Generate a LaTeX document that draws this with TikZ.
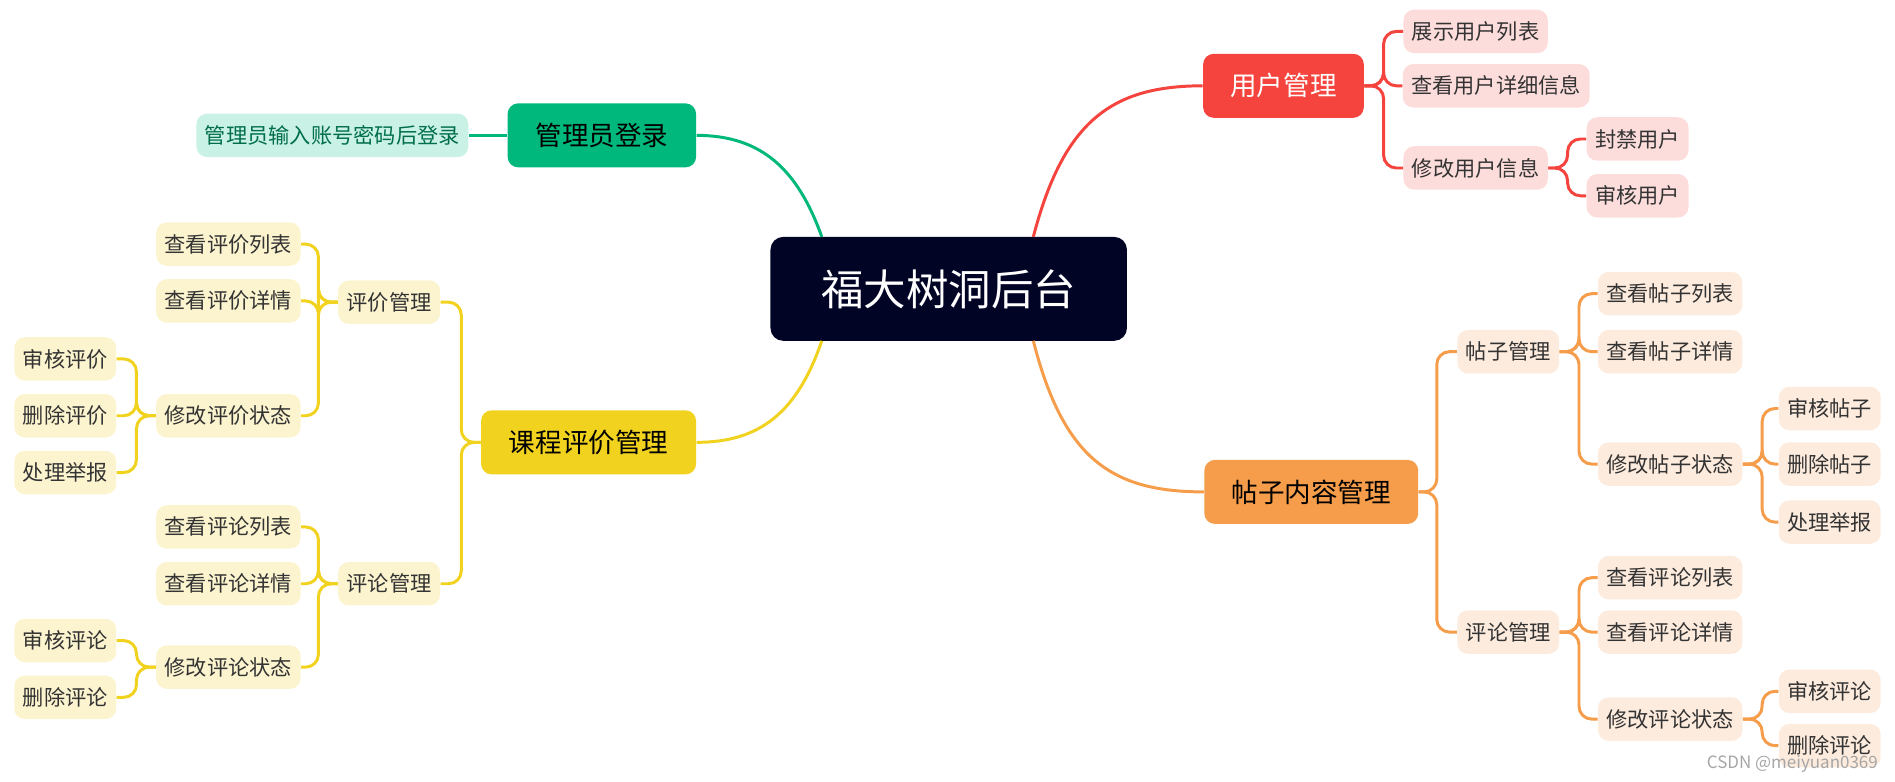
\documentclass[tikz,border=0pt]{standalone}
\usepackage{fontspec}
\setmainfont{Noto Sans CJK SC}
\usetikzlibrary{calc}
\definecolor{navy}{HTML}{020426}
\definecolor{ured}{HTML}{F5443D}\definecolor{upink}{HTML}{FDDDDC}
\definecolor{orng}{HTML}{F59D4B}\definecolor{lorng}{HTML}{FDEBDD}
\definecolor{grn}{HTML}{00B87B}\definecolor{lgrn}{HTML}{C9F1E5}
\definecolor{yel}{HTML}{F1D21F}\definecolor{lyel}{HTML}{FCF4CF}
\tikzset{
 leaf/.style={rounded corners=5pt,inner xsep=4pt,minimum height=0.72cm,font=\fontsize{10}{12}\selectfont,text=black!80},
 mid/.style={rounded corners=5pt,minimum height=1.06cm,font=\fontsize{12.5}{14}\selectfont},
 ln/.style={line width=1.4pt,rounded corners=6pt},
}
\begin{document}
\begin{tikzpicture}[x=0.02cm,y=-0.02cm]
\useasboundingbox (0,0) rectangle (1568,647);
\node[fill=navy,text=white,rounded corners=6pt,minimum width=5.9cm,minimum height=1.72cm,font=\fontsize{20}{24}\selectfont] (c) at (785,239) {福大树洞后台};
% user
\node[mid,fill=ured,text=white,minimum width=2.66cm] (u) at (1062,71) {用户管理};
\node[leaf,fill=upink] (u1) at (1221,26) {展示用户列表};
\node[leaf,fill=upink] (u2) at (1238,71) {查看用户详细信息};
\node[leaf,fill=upink] (u3) at (1221,139) {修改用户信息};
\node[leaf,fill=upink] (u31) at (1355,115) {封禁用户};
\node[leaf,fill=upink] (u32) at (1355,162) {审核用户};
\foreach \t in {u1,u2,u3} \draw[ln,ured] (u.east) -- ++(16,0) |- (\t.west);
\foreach \t in {u31,u32} \draw[ln,ured] (u3.east) -- ++(16,0) |- (\t.west);
\draw[ln,ured] (855,196) .. controls (880,100) and (920,71) .. (u.west);
% posts
\node[mid,fill=orng,text=black,minimum width=3.54cm] (p) at (1085,407) {帖子内容管理};
\node[leaf,fill=lorng] (pa) at (1248,291) {帖子管理};
\node[leaf,fill=lorng] (pb) at (1248,523) {评论管理};
\node[leaf,fill=lorng] (pa1) at (1382,243) {查看帖子列表};
\node[leaf,fill=lorng] (pa2) at (1382,291) {查看帖子详情};
\node[leaf,fill=lorng] (pa3) at (1382,384) {修改帖子状态};
\node[leaf,fill=lorng] (pa31) at (1514,338) {审核帖子};
\node[leaf,fill=lorng] (pa32) at (1514,384) {删除帖子};
\node[leaf,fill=lorng] (pa33) at (1514,432) {处理举报};
\node[leaf,fill=lorng] (pb1) at (1382,478) {查看评论列表};
\node[leaf,fill=lorng] (pb2) at (1382,523) {查看评论详情};
\node[leaf,fill=lorng] (pb3) at (1382,595) {修改评论状态};
\node[leaf,fill=lorng] (pb31) at (1514,572) {审核评论};
\node[leaf,fill=lorng] (pb32) at (1514,617) {删除评论};
\foreach \t in {pa,pb} \draw[ln,orng] (p.east) -- ++(15,0) |- (\t.west);
\foreach \t in {pa1,pa2,pa3} \draw[ln,orng] (pa.east) -- ++(16,0) |- (\t.west);
\foreach \t in {pa31,pa32,pa33} \draw[ln,orng] (pa3.east) -- ++(16,0) |- (\t.west);
\foreach \t in {pb1,pb2,pb3} \draw[ln,orng] (pb.east) -- ++(16,0) |- (\t.west);
\foreach \t in {pb31,pb32} \draw[ln,orng] (pb3.east) -- ++(16,0) |- (\t.west);
\draw[ln,orng] (855,282) .. controls (880,380) and (920,407) .. (p.west);
% admin
\node[mid,fill=grn,text=black,minimum width=3.12cm] (a) at (498,112) {管理员登录};
\node[leaf,fill=lgrn,text=grn!60!black] (a1) at (275,112) {管理员输入账号密码后登录};
\draw[ln,grn] (a.west) -- (a1.east);
\draw[ln,grn] (680,196) .. controls (660,140) and (630,112) .. (a.east);
% course
\node[mid,fill=yel,text=black,minimum width=3.56cm] (k) at (487,366) {课程评价管理};
\node[leaf,fill=lyel] (ka) at (322,250) {评价管理};
\node[leaf,fill=lyel] (kb) at (322,483) {评论管理};
\node[leaf,fill=lyel] (ka1) at (189,202) {查看评价列表};
\node[leaf,fill=lyel] (ka2) at (189,249) {查看评价详情};
\node[leaf,fill=lyel] (ka3) at (189,344) {修改评价状态};
\node[leaf,fill=lyel] (ka31) at (54,297) {审核评价};
\node[leaf,fill=lyel] (ka32) at (54,344) {删除评价};
\node[leaf,fill=lyel] (ka33) at (54,391) {处理举报};
\node[leaf,fill=lyel] (kb1) at (189,436) {查看评论列表};
\node[leaf,fill=lyel] (kb2) at (189,483) {查看评论详情};
\node[leaf,fill=lyel] (kb3) at (189,552) {修改评论状态};
\node[leaf,fill=lyel] (kb31) at (54,530) {审核评论};
\node[leaf,fill=lyel] (kb32) at (54,577) {删除评论};
\foreach \t in {ka,kb} \draw[ln,yel] (k.west) -- ++(-16,0) |- (\t.east);
\foreach \t in {ka1,ka2,ka3} \draw[ln,yel] (ka.west) -- ++(-16,0) |- (\t.east);
\foreach \t in {ka31,ka32,ka33} \draw[ln,yel] (ka3.west) -- ++(-16,0) |- (\t.east);
\foreach \t in {kb1,kb2,kb3} \draw[ln,yel] (kb.west) -- ++(-16,0) |- (\t.east);
\foreach \t in {kb31,kb32} \draw[ln,yel] (kb3.west) -- ++(-16,0) |- (\t.east);
\draw[ln,yel] (680,282) .. controls (660,340) and (630,366) .. (k.east);
\node[text=gray!70,font=\fontsize{8}{9}\selectfont,anchor=east] (wm) at (1560,632) {CSDN @meiyuan0369};
\end{tikzpicture}
\end{document}
